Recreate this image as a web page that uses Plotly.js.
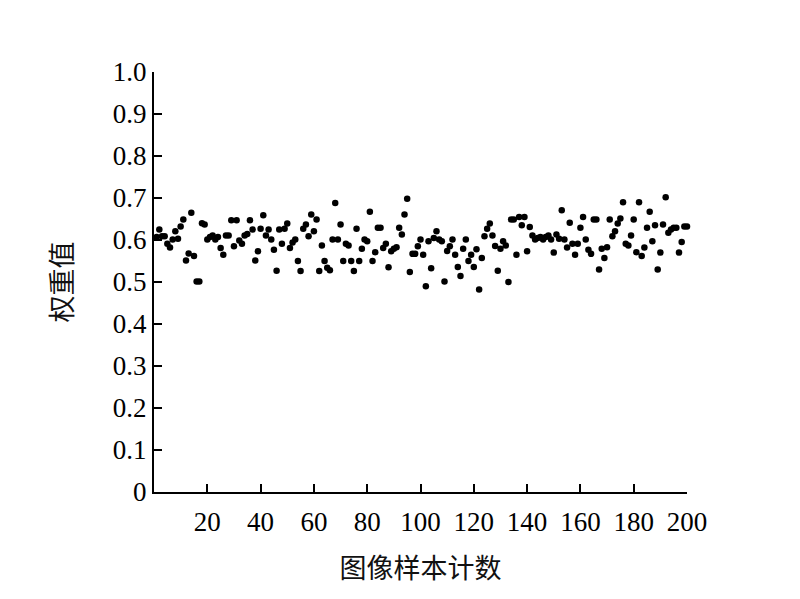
<!DOCTYPE html>
<html>
<head>
<meta charset="utf-8">
<script src="https://cdn.plot.ly/plotly-3.0.1.min.js"></script>
<style>
  html, body { margin: 0; padding: 0; background: #fff; }
  #chart { width: 800px; height: 599px; }
</style>
</head>
<body>
<div id="chart"></div>
<script>
// sample index (图像样本计数)
const sampleIdx = [
  1, 2, 3, 4, 5, 6, 7, 8, 9, 10, 11, 12, 13, 14, 15, 16, 17, 18, 19, 20,
  21, 22, 23, 24, 25, 26, 27, 28, 29, 30, 31, 32, 33, 34, 35, 36, 37, 38, 39, 40,
  41, 42, 43, 44, 45, 46, 47, 48, 49, 50, 51, 52, 53, 54, 55, 56, 57, 58, 59, 60,
  61, 62, 63, 64, 65, 66, 67, 68, 69, 70, 71, 72, 73, 74, 75, 76, 77, 78, 79, 80,
  81, 82, 83, 84, 85, 86, 87, 88, 89, 90, 91, 92, 93, 94, 95, 96, 97, 98, 99, 100,
  101, 102, 103, 104, 105, 106, 107, 108, 109, 110, 111, 112, 113, 114, 115, 116, 117, 118, 119, 120,
  121, 122, 123, 124, 125, 126, 127, 128, 129, 130, 131, 132, 133, 134, 135, 136, 137, 138, 139, 140,
  141, 142, 143, 144, 145, 146, 147, 148, 149, 150, 151, 152, 153, 154, 155, 156, 157, 158, 159, 160,
  161, 162, 163, 164, 165, 166, 167, 168, 169, 170, 171, 172, 173, 174, 175, 176, 177, 178, 179, 180,
  181, 182, 183, 184, 185, 186, 187, 188, 189, 190, 191, 192, 193, 194, 195, 196, 197, 198, 199, 200
];

// weight values (权重值)
const weights = [
  0.607, 0.625, 0.609, 0.609, 0.591, 0.582, 0.601, 0.621, 0.603, 0.632,
  0.649, 0.551, 0.568, 0.665, 0.562, 0.501, 0.501, 0.640, 0.637, 0.601,
  0.607, 0.611, 0.601, 0.607, 0.581, 0.565, 0.611, 0.611, 0.647, 0.585,
  0.647, 0.599, 0.591, 0.611, 0.614, 0.647, 0.625, 0.551, 0.573, 0.627,
  0.659, 0.611, 0.625, 0.601, 0.577, 0.527, 0.625, 0.591, 0.627, 0.639,
  0.581, 0.594, 0.601, 0.550, 0.526, 0.627, 0.637, 0.609, 0.661, 0.621,
  0.649, 0.526, 0.587, 0.550, 0.534, 0.528, 0.601, 0.688, 0.601, 0.637,
  0.550, 0.591, 0.587, 0.550, 0.526, 0.627, 0.550, 0.579, 0.601, 0.597,
  0.667, 0.550, 0.571, 0.629, 0.629, 0.581, 0.591, 0.535, 0.573, 0.579,
  0.583, 0.629, 0.613, 0.661, 0.698, 0.524, 0.567, 0.567, 0.585, 0.601,
  0.565, 0.490, 0.597, 0.533, 0.605, 0.621, 0.601, 0.597, 0.501, 0.574,
  0.585, 0.601, 0.565, 0.536, 0.514, 0.579, 0.601, 0.550, 0.565, 0.536,
  0.578, 0.482, 0.557, 0.609, 0.627, 0.639, 0.611, 0.586, 0.527, 0.579,
  0.597, 0.587, 0.500, 0.649, 0.649, 0.565, 0.655, 0.635, 0.655, 0.573,
  0.631, 0.611, 0.601, 0.605, 0.607, 0.601, 0.607, 0.611, 0.601, 0.570,
  0.613, 0.603, 0.671, 0.601, 0.582, 0.641, 0.591, 0.565, 0.591, 0.629,
  0.655, 0.601, 0.577, 0.567, 0.649, 0.649, 0.530, 0.579, 0.557, 0.583,
  0.649, 0.609, 0.621, 0.639, 0.651, 0.690, 0.591, 0.587, 0.611, 0.649,
  0.571, 0.690, 0.562, 0.582, 0.629, 0.667, 0.597, 0.635, 0.530, 0.570,
  0.637, 0.702, 0.617, 0.625, 0.629, 0.629, 0.570, 0.595, 0.632, 0.632
];

const xTicks = [20, 40, 60, 80, 100, 120, 140, 160, 180, 200];
const yTicks = [0, 0.1, 0.2, 0.3, 0.4, 0.5, 0.6, 0.7, 0.8, 0.9, 1.0];
const yTickText = ['0', '0.1', '0.2', '0.3', '0.4', '0.5', '0.6', '0.7', '0.8', '0.9', '1.0'];

const tickFont = { family: 'Liberation Serif, DejaVu Serif, serif', size: 27, color: '#000' };
const titleFont = { family: 'Noto Sans CJK SC, sans-serif', size: 27, color: '#111' };

const trace = {
  type: 'scatter',
  mode: 'markers',
  x: sampleIdx,
  y: weights,
  cliponaxis: false,
  marker: { color: '#000', size: 6.5 }
};

const layout = {
  width: 800,
  height: 599,
  paper_bgcolor: '#fff',
  plot_bgcolor: '#fff',
  showlegend: false,
  margin: { l: 154, r: 113, t: 72, b: 107 },
  xaxis: {
    range: [0, 200],
    tickvals: xTicks,
    ticks: 'inside',
    ticklen: 8,
    tickwidth: 2,
    tickcolor: '#000',
    ticklabelstandoff: 5,
    showline: true,
    linewidth: 2,
    linecolor: '#000',
    showgrid: false,
    zeroline: false,
    tickfont: tickFont,
    title: { text: '图像样本计数', font: titleFont, standoff: 23 }
  },
  yaxis: {
    range: [0, 1],
    tickvals: yTicks,
    ticktext: yTickText,
    ticks: 'inside',
    ticklen: 8,
    tickwidth: 2,
    tickcolor: '#000',
    showline: true,
    linewidth: 2,
    linecolor: '#000',
    showgrid: false,
    zeroline: false,
    tickfont: tickFont,
    title: { text: '权重值', font: titleFont, standoff: 32 }
  }
};

Plotly.newPlot('chart', [trace], layout, { displayModeBar: false });
</script>
</body>
</html>
